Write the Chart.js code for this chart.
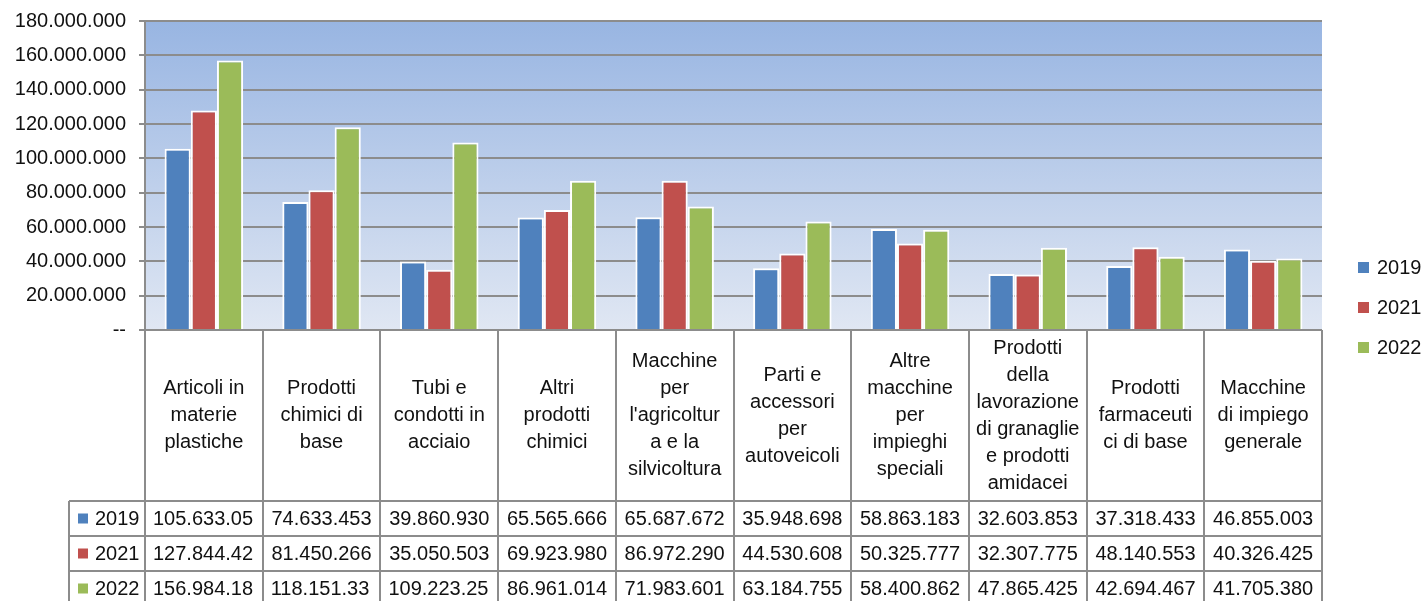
<!DOCTYPE html>
<html>
<head>
  <title>Import per prodotto 2019-2022</title>
  <script src="https://cdn.jsdelivr.net/npm/chart.js@4.4.0/dist/chart.umd.min.js"></script>
  <style>
    html, body { margin: 0; padding: 0; background: #fff; }
    #wrap { width: 1424px; height: 601px; }
  </style>
</head>
<body>
  <div id="wrap"><canvas id="chart" width="1424" height="601"></canvas></div>

  <script>
    // categorie (righe gia' spezzate come nella tabella)
    const categories = [
      ['Articoli in', 'materie', 'plastiche'],
      ['Prodotti', 'chimici di', 'base'],
      ['Tubi e', 'condotti in', 'acciaio'],
      ['Altri', 'prodotti', 'chimici'],
      ['Macchine', 'per', "l'agricoltur", 'a e la', 'silvicoltura'],
      ['Parti e', 'accessori', 'per', 'autoveicoli'],
      ['Altre', 'macchine', 'per', 'impieghi', 'speciali'],
      ['Prodotti', 'della', 'lavorazione', 'di granaglie', 'e prodotti', 'amidacei'],
      ['Prodotti', 'farmaceuti', 'ci di base'],
      ['Macchine', 'di impiego', 'generale']
    ];
    const years = ['2019', '2021', '2022'];
    // l'ultima cifra di alcuni valori e' tagliata nella tabella: stimata
    const values2019 = [105633050, 74633453, 39860930, 65565666, 65687672, 35948698, 58863183, 32603853, 37318433, 46855003];
    const values2021 = [127844420, 81450266, 35050503, 69923980, 86972290, 44530608, 50325777, 32307775, 48140553, 40326425];
    const values2022 = [156984180, 118151330, 109223250, 86961014, 71983601, 63184755, 58400862, 47865425, 42694467, 41705380];
    const yTicks = [0, 20000000, 40000000, 60000000, 80000000, 100000000, 120000000, 140000000, 160000000, 180000000];

    const colors = ['#4f81bd', '#c0504d', '#9bbb59'];
    const lineGray = '#8c8c8c';
    const FONT = '"Liberation Sans", Arial, sans-serif';

    function fmt(v) {
      return String(v).replace(/\B(?=(\d{3})+(?!\d))/g, '.');
    }

    // sfondo sfumato dell'area del grafico
    const plotBackground = {
      id: 'plotBackground',
      beforeDraw(chart) {
        const a = chart.chartArea, ctx = chart.ctx;
        const g = ctx.createLinearGradient(0, a.top, 0, a.bottom);
        g.addColorStop(0, '#98b5e2');
        g.addColorStop(1, '#e0e7f3');
        ctx.save();
        ctx.fillStyle = g;
        ctx.fillRect(a.left, a.top, a.right - a.left, a.bottom - a.top);
        ctx.restore();
      }
    };

    // tabella dati sotto il grafico + legenda a destra
    const dataTable = {
      id: 'dataTable',
      afterDraw(chart) {
        const ctx = chart.ctx, a = chart.chartArea, x = chart.scales.x;
        const n = categories.length;
        const colW = (a.right - a.left) / n;
        const labelBottom = 501;
        const rowH = 35;
        const tableLeft = 69;
        const series = [values2019, values2021, values2022];

        ctx.save();
        ctx.strokeStyle = lineGray;
        ctx.lineWidth = 2;

        // linea asse x
        ctx.beginPath();
        ctx.moveTo(a.left, a.bottom);
        ctx.lineTo(a.right, a.bottom);
        ctx.stroke();

        // verticali delle colonne
        for (let i = 0; i <= n; i++) {
          const xx = Math.round(a.left + i * colW);
          ctx.beginPath();
          ctx.moveTo(xx, a.bottom);
          ctx.lineTo(xx, 601);
          ctx.stroke();
        }
        // righe orizzontali
        for (let r = 0; r < 3; r++) {
          const yy = labelBottom + r * rowH;
          ctx.beginPath();
          ctx.moveTo(tableLeft, yy);
          ctx.lineTo(a.right, yy);
          ctx.stroke();
        }
        ctx.beginPath();
        ctx.moveTo(tableLeft, labelBottom);
        ctx.lineTo(tableLeft, 601);
        ctx.stroke();

        // etichette categorie
        ctx.fillStyle = '#111';
        ctx.font = '20px ' + FONT;
        ctx.textAlign = 'center';
        ctx.textBaseline = 'middle';
        const lineH = 27;
        const midY = (a.bottom + labelBottom) / 2;
        categories.forEach((lines, i) => {
          const cx = x.getPixelForValue(i);
          const y0 = midY - (lines.length - 1) * lineH / 2;
          lines.forEach((t, k) => ctx.fillText(t, cx, y0 + k * lineH));
        });

        // righe dei valori
        series.forEach((vals, r) => {
          const cy = labelBottom + r * rowH + rowH / 2;
          ctx.fillStyle = colors[r];
          ctx.fillRect(78, cy - 5, 10, 10);
          ctx.fillStyle = '#111';
          ctx.textAlign = 'left';
          ctx.fillText(years[r], 95, cy + 1);
          vals.forEach((v, i) => {
            const left = a.left + i * colW;
            let txt = fmt(v);
            if (ctx.measureText(txt).width > colW - 14) {
              // come nella cella originale: si vedono solo le cifre che entrano
              while (txt.length && ctx.measureText(txt).width > colW - 14) txt = txt.slice(0, -1);
              ctx.textAlign = 'left';
              ctx.fillText(txt, left + 8, cy + 1);
            } else {
              ctx.textAlign = 'center';
              ctx.fillText(txt, x.getPixelForValue(i), cy + 1);
            }
          });
        });

        // legenda
        years.forEach((yr, r) => {
          const cy = 267 + r * 40;
          ctx.fillStyle = colors[r];
          ctx.fillRect(1358, cy - 5, 11, 11);
          ctx.fillStyle = '#111';
          ctx.textAlign = 'left';
          ctx.fillText(yr, 1377, cy + 1);
        });
        ctx.restore();
      }
    };

    const chartData = {
      labels: categories.map(c => c.join(' ')),
      datasets: [
        { label: years[0], data: values2019, backgroundColor: colors[0] },
        { label: years[1], data: values2021, backgroundColor: colors[1] },
        { label: years[2], data: values2022, backgroundColor: colors[2] }
      ]
    };
    chartData.datasets.forEach(d => {
      d.borderColor = '#ffffff';
      d.borderWidth = 2;
      d.borderSkipped = 'bottom';
      d.categoryPercentage = 0.667;
      d.barPercentage = 1.0;
    });

    new Chart(document.getElementById('chart'), {
      type: 'bar',
      data: chartData,
      options: {
        responsive: false,
        animation: false,
        layout: { padding: { top: 21, right: 102, bottom: 271, left: 0 } },
        plugins: {
          legend: { display: false },
          tooltip: { enabled: false }
        },
        scales: {
          x: { display: false },
          y: {
            min: 0,
            max: 180000000,
            afterFit: s => { s.width = 145; s.paddingTop = 0; s.paddingBottom = 0; },
            afterBuildTicks: s => { s.ticks = yTicks.map(v => ({ value: v })); },
            border: { display: true, color: lineGray, width: 2 },
            grid: { color: lineGray, lineWidth: 2, tickLength: 6 },
            ticks: {
              color: '#111',
              padding: 13,
              font: { family: FONT, size: 20 },
              callback: v => v === 0 ? '--' : fmt(v)
            }
          }
        }
      },
      plugins: [plotBackground, dataTable]
    });
  </script>
</body>
</html>
